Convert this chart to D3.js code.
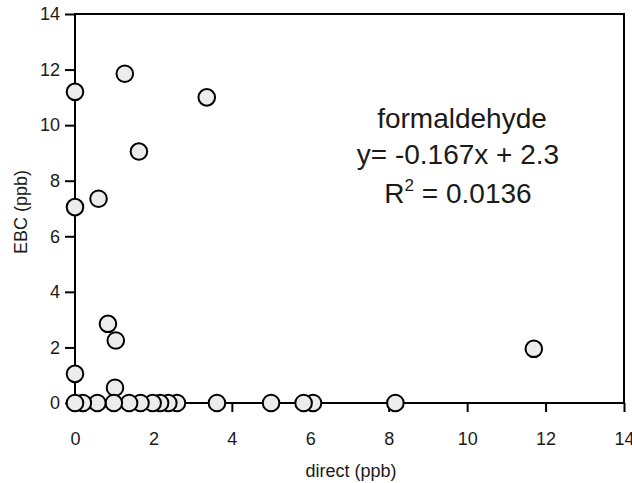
<!DOCTYPE html>
<html>
<head>
<meta charset="utf-8">
<script src="https://cdn.jsdelivr.net/npm/d3@7"></script>
<style>
  body { margin: 0; background: #fff; }
  text { font-family: "Liberation Sans", Arial, sans-serif; fill: #1a1a1a; }
</style>
</head>
<body>
<div id="chart"></div>
<script>
// direct (ppb) vs EBC (ppb)
var directVals = [0, 1.27, 3.36, 1.63, 0, 0.6, 0.84, 1.04, 0, 1.02, 11.7,
  0, 0.2, 0.57, 0.99, 1.38, 1.67, 1.98, 2.17, 2.38, 2.6, 3.62, 5.0, 5.83, 6.07, 8.17];
var ebcVals = [11.2, 11.85, 11.0, 9.05, 7.05, 7.35, 2.85, 2.25, 1.05, 0.55, 1.95,
  0, 0, 0, 0, 0, 0, 0, 0, 0, 0, 0, 0, 0, 0, 0];
var xTicks = [0, 2, 4, 6, 8, 10, 12, 14];
var yTicks = [0, 2, 4, 6, 8, 10, 12, 14];
var noteLines = ["formaldehyde", "y= -0.167x + 2.3"];

var width = 632, height = 483;
var margin = { top: 14, right: 8, bottom: 80, left: 75 };

var svg = d3.select("#chart").append("svg")
  .attr("width", width)
  .attr("height", height);

var x = d3.scaleLinear().domain([0, 14]).range([margin.left, width - margin.right]);
var y = d3.scaleLinear().domain([0, 14]).range([height - margin.bottom, margin.top]);

// frame
svg.append("rect")
  .attr("x", x(0)).attr("y", y(14))
  .attr("width", x(14) - x(0)).attr("height", y(0) - y(14))
  .attr("fill", "none").attr("stroke", "#000").attr("stroke-width", 2);

var xAxis = svg.append("g")
  .attr("transform", "translate(0," + y(0) + ")")
  .call(d3.axisBottom(x).tickValues(xTicks).tickSize(9).tickPadding(20).tickFormat(d3.format("d")));
var yAxis = svg.append("g")
  .attr("transform", "translate(" + x(0) + ",0)")
  .call(d3.axisLeft(y).tickValues(yTicks).tickSize(10).tickPadding(5).tickFormat(d3.format("d")));

[xAxis, yAxis].forEach(function (g) {
  g.select(".domain").remove();
  g.selectAll(".tick line").attr("stroke", "#000").attr("stroke-width", 2);
  g.selectAll(".tick text").attr("font-size", 18).attr("fill", "#1a1a1a");
});

// axis titles
svg.append("text")
  .attr("x", 351).attr("y", 477)
  .attr("text-anchor", "middle")
  .attr("font-size", 18)
  .text("direct (ppb)");

svg.append("text")
  .attr("transform", "translate(27,212) rotate(-90)")
  .attr("text-anchor", "middle")
  .attr("font-size", 18)
  .text("EBC (ppb)");

// points, larger x drawn first so left ones sit on top
var pts = directVals.map(function (d, i) { return { x: d, y: ebcVals[i] }; });
pts.sort(function (a, b) { return b.x - a.x; });

svg.selectAll(".pt")
  .data(pts)
  .enter().append("circle")
  .attr("class", "pt")
  .attr("cx", function (d) { return x(d.x); })
  .attr("cy", function (d) { return y(d.y); })
  .attr("r", 8.3)
  .attr("fill", "#ececec")
  .attr("stroke", "#000")
  .attr("stroke-width", 2);

// annotation
svg.selectAll(".note")
  .data(noteLines)
  .enter().append("text")
  .attr("class", "note")
  .attr("x", function (d, i) { return i == 0 ? 462 : 458; })
  .attr("y", function (d, i) { return 128 + i * 36; })
  .attr("text-anchor", "middle")
  .attr("font-size", 28)
  .text(function (d) { return d; });

var r2 = svg.append("text")
  .attr("x", 458).attr("y", 203)
  .attr("text-anchor", "middle")
  .attr("font-size", 28);
r2.append("tspan").text("R");
r2.append("tspan").attr("font-size", 17).attr("dy", -12).text("2");
r2.append("tspan").attr("dy", 12).text(" = 0.0136");
</script>
</body>
</html>
